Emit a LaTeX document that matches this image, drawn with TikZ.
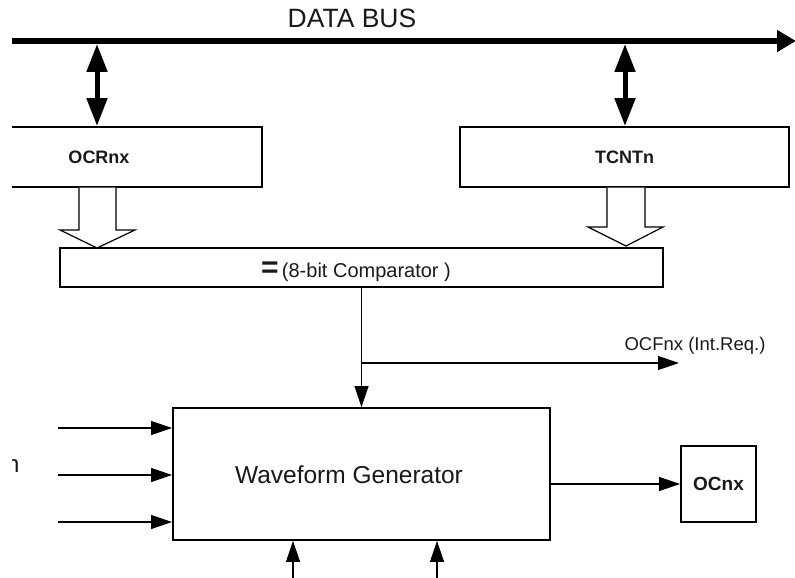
\documentclass[tikz,border=0pt]{standalone}
\usepackage{fontspec}
\setmainfont{Liberation Sans}
\usetikzlibrary{arrows.meta,calc}
\begin{document}
\begin{tikzpicture}[x=1pt,y=-1pt,
  box/.style={draw,line width=1.9pt,inner sep=0pt,text=black!90},
  conn/.style={line width=1.2pt,-{Triangle[length=21pt,width=14pt]}},
  bidir/.style={line width=5pt,{Triangle[length=28pt,width=20pt]}-{Triangle[length=28pt,width=20pt]}},
  hollow/.style={line width=1.2pt,fill=white,line join=miter},
  lbl/.style={inner sep=0pt,text=black!90}]
\useasboundingbox (0,0) rectangle (795,578);

% data bus
\coordinate (busL) at (12,41);
\coordinate (busR) at (796,41);
\draw[line width=5.5pt,-{Triangle[length=19pt,width=21pt]}] (busL) -- (busR);
\node[lbl,anchor=base,font=\fontsize{26.5}{26.5}\selectfont] (bus) at (352,28) {DATA BUS};

% registers
\begin{scope}
  \clip (12,0) rectangle (795,578);
  \node[box,minimum width=326pt,minimum height=60pt,font=\fontsize{18}{18}\selectfont\bfseries] (ocr) at (99,157) {OCRnx};
  \node[lbl,anchor=base west,font=\fontsize{24}{24}\selectfont] (nlbl) at (6,472) {n};
\end{scope}
\node[box,minimum width=329pt,minimum height=60pt,font=\fontsize{18}{18}\selectfont\bfseries] (tcnt) at (624.5,157) {TCNTn};

% bus connections
\coordinate (b1) at (97,44);
\coordinate (b2) at (625,44);
\draw[bidir] (b1) -- (b1 |- ocr.north);
\draw[bidir] (b2) -- (b2 |- tcnt.north);

% comparator
\node[box,minimum width=603pt,minimum height=39pt] (cmp) at (361.5,267.5) {};
\node[lbl,anchor=base,font=\fontsize{20}{20}\selectfont] (cmpt) at (356,277)
  {{\fontsize{30}{30}\selectfont\bfseries =}\,(8-bit Comparator )};

% hollow arrows
\draw[hollow] (79,187.5) -- (79,230) -- (60,230) -- (97,248) -- (135,230) -- (116,230) -- (116,187.5);
\draw[hollow] (607,187.5) -- (607,227) -- (588,227) -- (626,246) -- (663,227) -- (645,227) -- (645,187.5);

% waveform generator
\node[box,minimum width=377pt,minimum height=132pt] (wg) at (361.5,474) {};
\node[lbl,anchor=base,font=\fontsize{24.5}{24.5}\selectfont] (wgt) at (349,483) {Waveform Generator};

% OCnx
\node[box,minimum width=75pt,minimum height=76pt,font=\fontsize{19}{19}\selectfont\bfseries] (ocnx) at (718.5,484) {OCnx};

% comparator output
\draw[conn] (cmp.south) -- (wg.north);
\coordinate (br) at (362,363);
\coordinate (ocf) at (679,363);
\draw[conn] (br) -- (ocf);
\node[lbl,anchor=base,font=\fontsize{18.5}{18.5}\selectfont] (ocft) at (695,350) {OCFnx (Int.Req.)};

% inputs
\coordinate (in1) at (58,428);
\coordinate (in2) at (58,475);
\coordinate (in3) at (58,522);
\draw[conn] (in1) -- (in1 -| wg.west);
\draw[conn] (in2) -- (in2 -| wg.west);
\draw[conn] (in3) -- (in3 -| wg.west);
\coordinate (bt1) at (293,579);
\coordinate (bt2) at (437,579);
\draw[conn] (bt1) -- (bt1 |- wg.south);
\draw[conn] (bt2) -- (bt2 |- wg.south);

% output
\draw[conn] (ocnx.west -| wg.east) -- (ocnx.west);
\end{tikzpicture}
\end{document}
